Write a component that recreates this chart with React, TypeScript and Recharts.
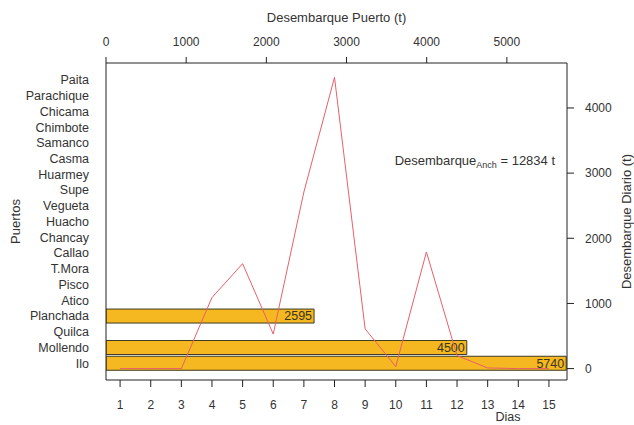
import {
  BarChart,
  Bar,
  LineChart,
  Line,
  XAxis,
  YAxis,
  LabelList,
  Label,
  ReferenceDot,
} from "recharts"

const puertos = [
  "Paita", "Parachique", "Chicama", "Chimbote", "Samanco", "Casma", "Huarmey",
  "Supe", "Vegueta", "Huacho", "Chancay", "Callao", "T.Mora", "Pisco", "Atico",
  "Planchada", "Quilca", "Mollendo", "Ilo",
]
const desembarquePuerto = [0, 0, 0, 0, 0, 0, 0, 0, 0, 0, 0, 0, 0, 0, 0, 2595, 0, 4500, 5740]

const dias = [1, 2, 3, 4, 5, 6, 7, 8, 9, 10, 11, 12, 13, 14, 15]
const desembarqueDiario = [0, 0, 0, 1090, 1610, 530, 2710, 4470, 610, 30, 1790, 200, 10, 0, 0]

const puertoTicks = [0, 1000, 2000, 3000, 4000, 5000]
const diarioTicks = [0, 1000, 2000, 3000, 4000]
const totalAnch = 12834

const W = 634
const H = 425
const FONT = "'Liberation Sans', Arial, sans-serif"
const INK = "#333"
const tick = { fontSize: 12, fill: INK, fontFamily: FONT }
const axisLine = { stroke: "#222", strokeWidth: 1 }

const barData = puertos.map((p, i) => ({ puerto: p, value: desembarquePuerto[i] }))
const lineData = dias.map((d, i) => ({ dia: d, value: desembarqueDiario[i] }))

const layer: React.CSSProperties = { position: "absolute", left: 0, top: 0 }

export default function App() {
  return (
    <div style={{ position: "absolute", left: 0, top: 0, width: W, height: H, background: "#fff", fontFamily: FONT }}>
      <div style={layer}>
        <BarChart
          width={W}
          height={H}
          data={barData}
          layout="vertical"
          margin={{ top: 33, right: 67, bottom: 45, left: 0 }}
        >
          <XAxis
            type="number"
            orientation="top"
            height={30}
            domain={[0, 5750]}
            ticks={puertoTicks}
            allowDataOverflow
            tick={tick}
            tickSize={6}
            tickMargin={11}
            axisLine={axisLine}
            tickLine={axisLine}
          >
            <Label value="Desembarque Puerto (t)" position="top" offset={11} style={{ fontSize: 13, fill: INK, fontFamily: FONT }} />
          </XAxis>
          <YAxis
            type="category"
            dataKey="puerto"
            width={106}
            padding={{ top: 9, bottom: 9 }}
            tick={{ ...tick, fontSize: 12.5 }}
            tickSize={0}
            tickLine={false}
            tickMargin={17}
            interval={0}
            axisLine={axisLine}
          >
            <Label
              content={({ viewBox }: any) => (
                <text
                  x={viewBox.x + 16}
                  y={viewBox.y + viewBox.height / 2 + 4}
                  transform={`rotate(-90 ${viewBox.x + 16} ${viewBox.y + viewBox.height / 2})`}
                  textAnchor="middle"
                  fontSize={13}
                  fill={INK}
                  fontFamily={FONT}
                >
                  Puertos
                </text>
              )}
            />
          </YAxis>
          <Bar dataKey="value" fill="#F5B820" stroke="#3d3a22" strokeWidth={1} barSize={14} isAnimationActive={false}>
            <LabelList
              dataKey="value"
              position="insideRight"
              offset={2}
              formatter={(v: any) => (v > 0 ? v : "")}
              style={{ fontSize: 12.5, fill: "#3a3520", fontFamily: FONT }}
            />
          </Bar>
        </BarChart>
      </div>
      <div style={{ ...layer, pointerEvents: "none" }}>
        <LineChart
          width={W}
          height={H}
          data={lineData}
          margin={{ top: 63, right: 0, bottom: 0, left: 106 }}
        >
          <XAxis
            type="number"
            dataKey="dia"
            height={45}
            domain={[0.54, 15.59]}
            ticks={dias}
            interval={0}
            allowDataOverflow
            tick={tick}
            tickSize={7}
            tickMargin={13}
            axisLine={axisLine}
            tickLine={axisLine}
          >
            <Label
              content={({ viewBox }: any) => (
                <text x={508} y={viewBox.y + 41} textAnchor="middle" fontSize={12.5} fill={INK} fontFamily={FONT}>
                  Dias
                </text>
              )}
            />
          </XAxis>
          <YAxis
            orientation="right"
            width={67}
            domain={[-175, 4690]}
            ticks={diarioTicks}
            allowDataOverflow
            tick={{ ...tick, textAnchor: "start" }}
            tickSize={7}
            tickMargin={11}
            axisLine={axisLine}
            tickLine={axisLine}
          >
            <Label
              content={({ viewBox }: any) => {
                const cx = viewBox.x + 60
                const cy = viewBox.y + viewBox.height / 2
                return (
                  <text
                    x={cx}
                    y={cy + 4}
                    transform={`rotate(-90 ${cx} ${cy})`}
                    textAnchor="middle"
                    fontSize={13}
                    fill={INK}
                    fontFamily={FONT}
                  >
                    Desembarque Diario (t)
                  </text>
                )
              }}
            />
          </YAxis>
          <Line
            type="linear"
            dataKey="value"
            stroke="#E8606A"
            strokeWidth={1}
            dot={false}
            isAnimationActive={false}
          />
          <ReferenceDot
            x={15.2}
            y={3180}
            r={0}
            fill="none"
            stroke="none"
            label={{
              content: ({ viewBox }: any) => (
                <text x={viewBox.x} y={viewBox.y + 4} textAnchor="end" fontSize={13} fill={INK} fontFamily={FONT}>
                  Desembarque
                  <tspan fontSize={9} dy={3}>Anch</tspan>
                  <tspan dy={-3}>{` = ${totalAnch} t`}</tspan>
                </text>
              ),
            }}
          />
        </LineChart>
      </div>
    </div>
  )
}
